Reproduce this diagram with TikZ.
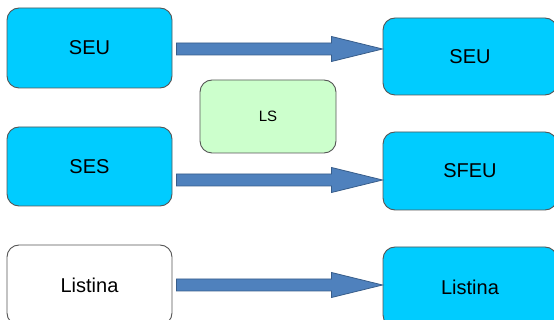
\documentclass[tikz,border=0pt]{standalone}
\usepackage{fontspec}
\setmainfont{Liberation Sans}
\usetikzlibrary{calc}

\definecolor{boxcyan}{HTML}{00CCFF}
\definecolor{boxgreen}{HTML}{CCFFCC}
\definecolor{arrowblue}{HTML}{4F81BD}
\definecolor{arrowedge}{HTML}{385D8A}
\definecolor{boxedge}{HTML}{555555}

\begin{document}
\begin{tikzpicture}[x=1pt,y=-1pt,
  box/.style={draw=boxedge,line width=0.9pt,rounded corners=12pt,
    font=\fontsize{20}{24}\selectfont,inner sep=0pt},
  cyanbox/.style={box,fill=boxcyan},
  blk/.style={fill=arrowblue,draw=arrowedge,line width=0.8pt,
    to path={let \p1=(\tikztostart),\p2=(\tikztotarget) in
      (\x1,\y1+6pt) -- (\x2-51pt,\y1+6pt) -- (\x2-51pt,\y1+12.5pt) -- (\x2,\y1)
      -- (\x2-51pt,\y1-12.5pt) -- (\x2-51pt,\y1-6pt) -- (\x1,\y1-6pt) -- cycle}}]

\useasboundingbox (0,0) rectangle (554,320);

% left column
\node[cyanbox,minimum width=165pt,minimum height=80pt] (seuL) at (89.5,48) {SEU};
\node[cyanbox,minimum width=165pt,minimum height=79pt] (sesL) at (89.5,166.5) {SES};
\node[box,fill=white,minimum width=165pt,minimum height=80pt] (lisL) at (89.5,285) {Listina};

% middle
\node[box,fill=boxgreen,minimum width=136pt,minimum height=73pt,
  font=\fontsize{15}{18}\selectfont] (ls) at (268,116.5) {LS};

% right column
\node[cyanbox,minimum width=174pt,minimum height=77pt] (seuR) at (470,56.5) {SEU};
\node[cyanbox,minimum width=174pt,minimum height=78pt] (sfeuR) at (470,171) {SFEU};
\node[cyanbox,minimum width=174pt,minimum height=80pt] (lisR) at (470,287) {Listina};

% arrows
\coordinate (t1) at ([xshift=4pt,yshift=-1pt]seuL.east);
\coordinate (t2) at ([xshift=4pt,yshift=-13.5pt]sesL.east);
\coordinate (t3) at ([xshift=4pt]lisL.east);
\draw[blk] (t1) to (t1 -| seuR.west);
\draw[blk] (t2) to (t2 -| sfeuR.west);
\draw[blk] (t3) to (t3 -| lisR.west);
\end{tikzpicture}
\end{document}
